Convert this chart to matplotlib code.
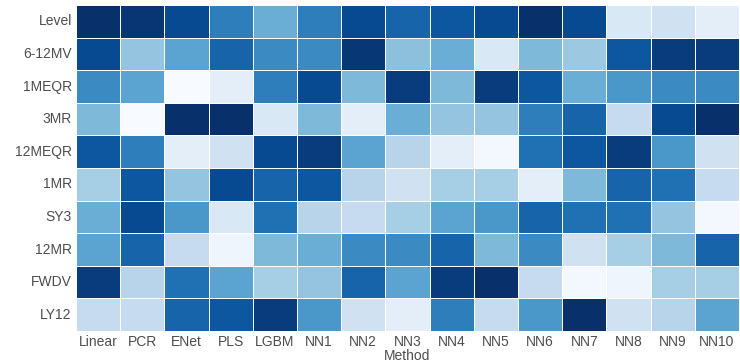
import numpy as np
import pandas as pd
import matplotlib
matplotlib.use('Agg')
import matplotlib.pyplot as plt
import seaborn as sns

methods = ['Linear', 'PCR', 'ENet', 'PLS', 'LGBM', 'NN1', 'NN2', 'NN3',
           'NN4', 'NN5', 'NN6', 'NN7', 'NN8', 'NN9', 'NN10']
features = ['Level', '6-12MV', '1MEQR', '3MR', '12MEQR', '1MR', 'SY3',
            '12MR', 'FWDV', 'LY12']

# relative importance (0 = light, 1 = dark)
level   = [1.00, 0.98, 0.90, 0.70, 0.50, 0.70, 0.90, 0.80, 0.85, 0.90, 1.00, 0.90, 0.15, 0.20, 0.10]
mv612   = [0.90, 0.40, 0.55, 0.80, 0.65, 0.65, 0.97, 0.42, 0.50, 0.15, 0.45, 0.38, 0.85, 0.95, 0.95]
meqr1   = [0.65, 0.55, 0.00, 0.10, 0.70, 0.90, 0.45, 0.95, 0.45, 0.95, 0.85, 0.50, 0.60, 0.65, 0.65]
mr3     = [0.45, 0.00, 1.00, 1.00, 0.15, 0.45, 0.10, 0.50, 0.40, 0.40, 0.70, 0.80, 0.25, 0.90, 1.00]
meqr12  = [0.85, 0.70, 0.10, 0.20, 0.90, 0.95, 0.55, 0.30, 0.10, 0.02, 0.75, 0.85, 0.95, 0.60, 0.20]
mr1     = [0.35, 0.85, 0.40, 0.90, 0.80, 0.85, 0.30, 0.20, 0.35, 0.35, 0.10, 0.45, 0.80, 0.75, 0.25]
sy3     = [0.50, 0.90, 0.60, 0.15, 0.75, 0.30, 0.25, 0.35, 0.55, 0.60, 0.80, 0.75, 0.75, 0.40, 0.02]
mr12    = [0.55, 0.80, 0.25, 0.05, 0.45, 0.50, 0.65, 0.65, 0.80, 0.45, 0.65, 0.20, 0.35, 0.45, 0.80]
fwdv    = [0.95, 0.30, 0.75, 0.55, 0.35, 0.40, 0.80, 0.55, 0.95, 1.00, 0.25, 0.02, 0.05, 0.35, 0.35]
ly12    = [0.25, 0.25, 0.80, 0.85, 0.95, 0.60, 0.20, 0.10, 0.70, 0.25, 0.60, 1.00, 0.20, 0.30, 0.55]

df = pd.DataFrame([level, mv612, meqr1, mr3, meqr12, mr1, sy3, mr12, fwdv, ly12],
                  index=features, columns=methods)

sns.set_style('white')
plt.rcParams['font.family'] = ['Liberation Sans', 'DejaVu Sans']

fig = plt.figure(figsize=(7.4, 3.62), dpi=100)
ax = fig.add_axes([76 / 740, 31 / 362, 663 / 740, 326 / 362])
sns.heatmap(df, cmap='Blues', vmin=0, vmax=1, cbar=False,
            linewidths=0.6, linecolor='white', ax=ax)

ax.set_xlabel('Method', fontsize=10, color='0.3', labelpad=0)
ax.set_ylabel('')
ax.tick_params(axis='both', length=0, labelsize=10, labelcolor='0.3', pad=3)
plt.setp(ax.get_yticklabels(), rotation=0)
plt.setp(ax.get_xticklabels(), rotation=0)

plt.savefig('out.png', dpi=100)
